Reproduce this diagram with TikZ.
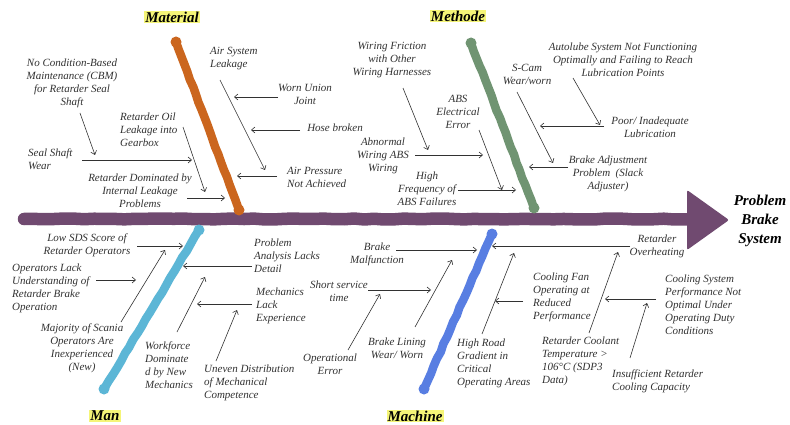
\documentclass[tikz,border=0pt]{standalone}
\usepackage{fontspec}
\setmainfont{Liberation Serif}
\usetikzlibrary{arrows.meta,decorations.pathmorphing}
\definecolor{spinec}{RGB}{112,74,112}
\definecolor{matc}{RGB}{203,102,30}
\definecolor{metc}{RGB}{112,148,114}
\definecolor{manc}{RGB}{92,182,214}
\definecolor{macc}{RGB}{88,126,226}
\definecolor{hlc}{RGB}{245,245,120}
\definecolor{txtc}{RGB}{50,50,50}
\tikzset{
 txt/.style={font=\fontsize{11}{13}\selectfont\itshape, text=txtc, inner sep=0pt, align=center},
 txtl/.style={txt, align=left, anchor=west},
 arr/.style={draw=txtc, line width=0.6pt, -{Straight Barb[length=3.5pt,width=6pt]}},
 bone/.style={line width=8.5pt, line cap=round, line join=round, decorate, decoration={random steps, segment length=8pt, amplitude=0.45pt}},
 cat/.style={font=\fontsize{15}{17}\selectfont\bfseries\itshape, fill=hlc, inner sep=1pt},
}
\begin{document}
\begin{tikzpicture}[x=1pt,y=-1pt]
\pgfmathsetseed{7}
\path[use as bounding box, fill=white] (0,0) rectangle (790,425);

% spine
\coordinate (spL) at (24,219);
\coordinate (spR) at (695,219);
\draw[spinec, line width=12.5pt, line cap=round, line join=round, decorate, decoration={random steps, segment length=10pt, amplitude=0.5pt}] (spL) -- (spR);
\fill[spinec, rounded corners=2pt] (687,190) -- (729,220) -- (687,250) -- cycle;
\node[font=\fontsize{15}{19}\selectfont\bfseries\itshape, align=center, inner sep=0pt] (prob) at (760,221) {Problem\\Brake\\System};

% bones
\coordinate (matT) at (176,42);  \coordinate (matB) at (239,210);
\coordinate (metT) at (471,43);  \coordinate (metB) at (534,208);
\coordinate (manT) at (199,230); \coordinate (manB) at (104,389);
\coordinate (macT) at (492,234); \coordinate (macB) at (424,389);
\draw[bone, matc] (matT) -- (matB);
\draw[bone, metc] (metT) -- (metB);
\draw[bone, manc] (manT) -- (manB);
\draw[bone, macc] (macT) -- (macB);
\foreach \p/\c in {matT/matc, matB/matc, metT/metc, metB/metc, manT/manc, manB/manc, macT/macc, macB/macc}
  \fill[\c] (\p) circle (5.5pt);

% category labels
\node[cat] (lmat) at (172,17) {Material};
\node[cat] (lmet) at (458,16) {Methode};
\node[cat] (lman) at (105,416) {Man};
\node[cat] (lmac) at (415,416) {Machine};

% ---------- Material texts
\node[txt] (m1) at (72,83) {No Condition-Based\\Maintenance (CBM)\\for Retarder Seal\\Shaft};
\node[txtl] (m2) at (28,159) {Seal Shaft\\Wear};
\node[txtl] (m3) at (120,130) {Retarder Oil\\Leakage into\\Gearbox};
\node[txt] (m4) at (140,191) {Retarder Dominated by\\Internal Leakage\\Problems};
\node[txtl] (m5) at (210,58.5) {Air System\\Leakage};
\node[txt] (m6) at (305,94) {Worn Union\\Joint};
\node[txt] (m7) at (335,128) {Hose broken};
\node[txtl] (m8) at (287,177.5) {Air Pressure\\Not Achieved};

\coordinate (a1s) at (80,113);  \coordinate (a1e) at (95,155);
\coordinate (a2s) at (82,160);  \coordinate (a2e) at (192,160);
\coordinate (a3s) at (183,127); \coordinate (a3e) at (205,192);
\coordinate (a4s) at (187,198); \coordinate (a4e) at (225,198);
\coordinate (a5s) at (220,80);  \coordinate (a5e) at (265,170);
\coordinate (a6s) at (278,97);  \coordinate (a6e) at (234,97);
\coordinate (a7s) at (300,130); \coordinate (a7e) at (251,130);
\coordinate (a8s) at (277,176); \coordinate (a8e) at (237,176);

% ---------- Methode texts
\node[txt] (w1) at (392,60.5) {Wiring Friction\\with Other\\Wiring Harnesses};
\node[txt] (w2) at (383,156) {Abnormal\\Wiring ABS\\Wiring};
\node[txt] (w3) at (458,112) {ABS\\Electrical\\Error};
\node[txt] (w4) at (427,189) {High\\Frequency of\\ABS Failures};
\node[txt] (w5) at (527,74) {S-Cam\\Wear/worn};
\node[txt] (w6) at (623,60) {Autolube System Not Functioning\\Optimally and Failing to Reach\\Lubrication Points};
\node[txt] (w7) at (650,127.5) {Poor/ Inadequate\\Lubrication};
\node[txt] (w8) at (608,174) {Brake Adjustment\\Problem\ \ (Slack\\Adjuster)};

\coordinate (b1s) at (403,88);  \coordinate (b1e) at (428,150);
\coordinate (b2s) at (415,155); \coordinate (b2e) at (483,155);
\coordinate (b3s) at (479,130); \coordinate (b3e) at (502,190);
\coordinate (b4s) at (458,190); \coordinate (b4e) at (516,190);
\coordinate (b5s) at (517,92);  \coordinate (b5e) at (553,163);
\coordinate (b6s) at (573,78);  \coordinate (b6e) at (600,125);
\coordinate (b7s) at (604,126); \coordinate (b7e) at (540,126);
\coordinate (b8s) at (568,167); \coordinate (b8e) at (529,167);

% ---------- Man texts
\node[txt] (n1) at (87,245) {Low SDS Score of\\Retarder Operators};
\node[txtl] (n2) at (12,288) {Operators Lack\\Understanding of\\Retarder Brake\\Operation};
\node[txt] (n3) at (82,348) {Majority of Scania\\Operators Are\\Inexperienced\\(New)};
\node[txtl] (n4) at (254,256) {Problem\\Analysis Lacks\\Detail};
\node[txtl] (n5) at (256,306) {Mechanics\\Lack\\Experience};
\node[txtl] (n6) at (145,365.5) {Workforce\\Dominate\\d by New\\Mechanics};
\node[txtl] (n7) at (204,382.5) {Uneven Distribution\\of Mechanical\\Competence};

\coordinate (c1s) at (137,246); \coordinate (c1e) at (183,246);
\coordinate (c2s) at (96,280);  \coordinate (c2e) at (136,280);
\coordinate (c3s) at (121,322); \coordinate (c3e) at (165,250);
\coordinate (c4s) at (252,266); \coordinate (c4e) at (183,266);
\coordinate (c5s) at (252,304); \coordinate (c5e) at (197,304);
\coordinate (c6s) at (177,332); \coordinate (c6e) at (205,277);
\coordinate (c7s) at (216,361); \coordinate (c7e) at (237,310);

% ---------- Machine texts
\node[txt] (k1) at (377,254.5) {Brake\\Malfunction};
\node[txt] (k2) at (339,291.5) {Short service\\time};
\node[txt] (k3) at (330,364) {Operational\\Error};
\node[txt] (k4) at (397,348) {Brake Lining\\Wear/ Worn};
\node[txtl] (k5) at (457,363.5) {High Road\\Gradient in\\Critical\\Operating Areas};
\node[txt] (k6) at (657,246.5) {Retarder\\Overheating};
\node[txtl] (k7) at (533,297) {Cooling Fan\\Operating at\\Reduced\\Performance};
\node[txtl] (k8) at (542,361.5) {Retarder Coolant\\Temperature >\\106°C (SDP3\\Data)};
\node[txtl] (k9) at (665,305) {Cooling System\\Performance Not\\Optimal Under\\Operating Duty\\Conditions};
\node[txtl] (k10) at (612,381) {Insufficient Retarder\\Cooling Capacity};

\coordinate (d1s) at (396,250);  \coordinate (d1e) at (477,250);
\coordinate (d2s) at (368,290);  \coordinate (d2e) at (431,290);
\coordinate (d3s) at (348,350);  \coordinate (d3e) at (380,294);
\coordinate (d4s) at (415,327);  \coordinate (d4e) at (452,260);
\coordinate (d5s) at (482,334);  \coordinate (d5e) at (514,253);
\coordinate (d6s) at (630,246);  \coordinate (d6e) at (492,246);
\coordinate (d7s) at (523,301);  \coordinate (d7e) at (495,301);
\coordinate (d8s) at (589,333);  \coordinate (d8e) at (618,252);
\coordinate (d9s) at (656,299);  \coordinate (d9e) at (605,299);
\coordinate (d10s) at (630,358); \coordinate (d10e) at (647,303);

\foreach \g/\n in {a/8,b/8,c/7,d/10}
  \foreach \i in {1,...,\n}
    \draw[arr] (\g\i s) -- (\g\i e);
\end{tikzpicture}
\end{document}
